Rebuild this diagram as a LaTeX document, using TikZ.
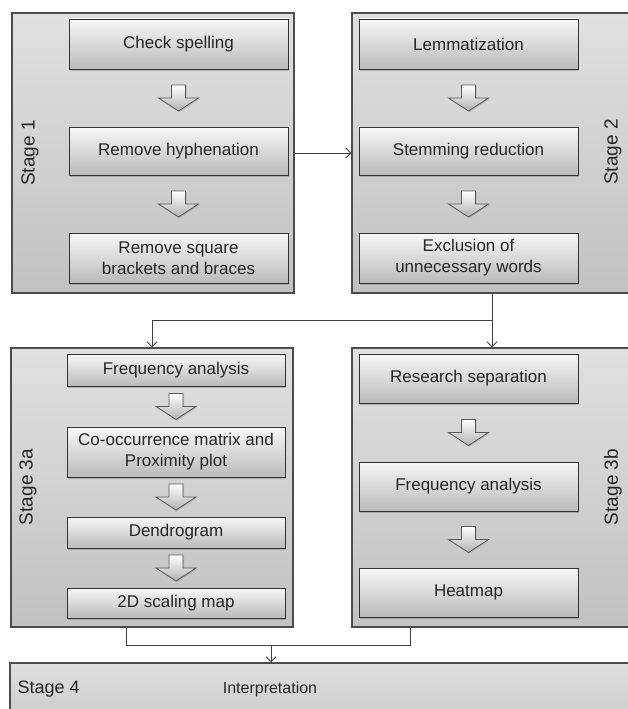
\documentclass[tikz,border=0pt]{standalone}
\usepackage{fontspec}
\setmainfont{Liberation Sans}
\usetikzlibrary{arrows.meta,positioning,shadows}
\tikzset{
  flowarrow/.style={-{Straight Barb[length=5pt,width=10pt]}, line width=1pt,
    draw=black!75},
  stagebox/.style={draw=black!70, line width=1.1pt, top color=black!12,
    bottom color=black!24, inner sep=0pt},
  stepbox/.style={draw=black!80, line width=0.9pt, top color=black!3,
    bottom color=black!27, minimum width=219pt, align=center, inner sep=2pt,
    text=black!85, font=\fontsize{17}{21}\selectfont,
    drop shadow={shadow xshift=1.2pt, shadow yshift=-1.6pt, opacity=0.45}},
  hollowarrow/.style={draw=black!65, line width=0.8pt, line join=miter,
    top color=white, bottom color=black!30,
    drop shadow={shadow xshift=1pt, shadow yshift=-1.2pt, opacity=0.35}},
  stagelabel/.style={text=black!85, font=\fontsize{19}{23}\selectfont}
}

\begin{document}
\begin{tikzpicture}[x=1pt,y=-1pt]
  \clip (0,0) rectangle (628,709);

  % stage frames
  \node[stagebox, minimum width=282pt, minimum height=280pt] (stageone) at (153,153) {};
  \node[stagebox, minimum width=280pt, minimum height=280pt] (stagetwo) at (492,153) {};
  \node[stagebox, minimum width=282pt, minimum height=279pt] (stagethreea) at (152,487.5) {};
  \node[stagebox, minimum width=280pt, minimum height=279pt] (stagethreeb) at (492,487.5) {};
  \node[stagebox, minimum width=670pt, minimum height=77pt] (stagefour) at (345,701.5) {};

  \node[stagelabel, rotate=90] (labelone) at (30,153) {Stage 1};
  \node[stagelabel, rotate=90] (labeltwo) at (613,152) {Stage 2};
  \node[stagelabel, rotate=90] (labelthreea) at (28,487) {Stage 3a};
  \node[stagelabel, rotate=90] (labelthreeb) at (613,487) {Stage 3b};
  \node[stagelabel, anchor=west, font=\fontsize{18}{22}\selectfont] (labelfour)
    at (14,689) {Stage 4};
  \node[text=black!85, font=\fontsize{16}{20}\selectfont] (interpret) at (270,689)
    {Interpretation};

  % stage 1
  \node[stepbox, minimum height=50pt] (spelling) at (178.5,44) {Check spelling};
  \node[stepbox, minimum height=48pt] (hyphen) at (178.5,151) {Remove hyphenation};
  \node[stepbox, minimum height=50pt] (brackets) at (178.5,258)
    {Remove square\\brackets and braces};

  % stage 2
  \node[stepbox, minimum height=50pt] (lemma) at (468.5,44) {Lemmatization};
  \node[stepbox, minimum height=48pt] (stemming) at (468.5,151) {Stemming reduction};
  \node[stepbox, minimum height=50pt] (exclusion) at (468.5,258)
    {Exclusion of\\unnecessary words};

  % stage 3a
  \node[stepbox, minimum width=218pt, minimum height=32pt] (freqa) at (176,370)
    {Frequency analysis};
  \node[stepbox, minimum width=218pt, minimum height=50pt] (cooccur) at (176,452)
    {Co-occurrence matrix and\\Proximity plot};
  \node[stepbox, minimum width=218pt, minimum height=31pt] (dendro) at (176,532.5)
    {Dendrogram};
  \node[stepbox, minimum width=218pt, minimum height=30pt] (scaling) at (176,603)
    {2D scaling map};

  % stage 3b
  \node[stepbox, minimum height=49pt] (research) at (468.5,378.5)
    {Research separation};
  \node[stepbox, minimum height=49pt] (freqb) at (468.5,486.5) {Frequency analysis};
  \node[stepbox, minimum height=49pt] (heatmap) at (468.5,592.5) {Heatmap};

  % hollow arrows inside the stages
  \foreach \from/\to in {spelling/hyphen, hyphen/brackets, lemma/stemming,
      stemming/exclusion, freqa/cooccur, cooccur/dendro, dendro/scaling,
      research/freqb, freqb/heatmap} {
    \path (\from.south) -- coordinate[midway] (mid) (\to.north);
    \draw[hollowarrow] (mid) ++(-7,-13) -- ++(14,0) -- ++(0,13) -- ++(13,0)
      -- ++(-20,13) -- ++(-20,-13) -- ++(13,0) -- cycle;
  }

  % links between stages
  \draw[flowarrow] (stageone) -- (stagetwo);
  \draw[flowarrow] (stagetwo.south) -- ++(0,27) -| (stagethreea.north);
  \draw[flowarrow] (stagetwo.south) -- (stagethreeb.north);
  \draw[flowarrow, -] ([xshift=-26pt]stagethreea.south) -- ++(0,18)
    -| ([xshift=-82pt]stagethreeb.south);
  \coordinate (merge) at (271,645);
  \draw[flowarrow] (merge) -- (merge |- stagefour.north);
\end{tikzpicture}
\end{document}
